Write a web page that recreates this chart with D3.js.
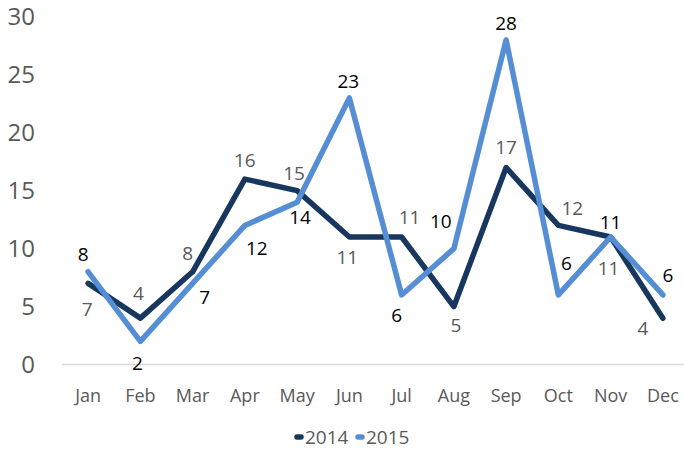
<!DOCTYPE html>
<html>
<head>
<meta charset="utf-8">
<script src="https://cdn.jsdelivr.net/npm/d3@7"></script>
<style>
  body { margin: 0; background: #fff; }
  svg { display: block; font-family: "Open Sans", sans-serif; }
</style>
</head>
<body>
<div id="viz"></div>
<script>
var months = ["Jan", "Feb", "Mar", "Apr", "May", "Jun", "Jul", "Aug", "Sep", "Oct", "Nov", "Dec"];
var values2014 = [7, 4, 8, 16, 15, 11, 11, 5, 17, 12, 11, 4];
var values2015 = [8, 2, 7, 12, 14, 23, 6, 10, 28, 6, 11, 6];
var yTicks = [0, 5, 10, 15, 20, 25, 30];

// label offsets from the point (dx, dy), like the reference placement
var off2014 = [[-1, 26], [-2, -25], [-5, -18], [0, -19], [-3, -17], [-2, 20], [8, -20], [2, 19], [0, -20], [14, -17], [-2, 31], [-20, 10]];
var off2015 = [[-5, -17], [-3, 22], [12, 14], [12, 23], [3, 15], [-1, -17], [-5, 20], [-13, -27], [0, -17], [8, -32], [0, -15], [5, -20]];

var series = [
  {name: "2014", values: values2014, color: "#17375E", text: "#595959", off: off2014},
  {name: "2015", values: values2015, color: "#558ED5", text: "#000000", off: off2015}
];

var width = 684, height = 450;

var svg = d3.select("#viz")
    .append("svg")
    .attr("width", width)
    .attr("height", height);

var x = d3.scalePoint()
    .domain(months)
    .range([62, 689])
    .padding(0.5);

var y = d3.scaleLinear()
    .domain([0, 30])
    .range([364.5, 16.8]);

// baseline
svg.append("line")
    .attr("x1", 62).attr("x2", width)
    .attr("y1", y(0)).attr("y2", y(0))
    .style("stroke", "#d9d9d9")
    .style("stroke-width", 1.3);

// y tick labels
svg.selectAll("text.ytick")
    .data(yTicks)
    .enter().append("text")
    .attr("class", "ytick")
    .attr("x", 35)
    .attr("y", function(d){return y(d);})
    .attr("dy", "0.35em")
    .attr("text-anchor", "end")
    .style("font-size", "24px")
    .style("fill", "#595959")
    .text(function(d){return d;});

// x tick labels
svg.selectAll("text.xtick")
    .data(months)
    .enter().append("text")
    .attr("class", "xtick")
    .attr("x", function(d){return x(d);})
    .attr("y", 396)
    .attr("dy", "0.35em")
    .attr("text-anchor", "middle")
    .style("font-size", "18px")
    .style("fill", "#595959")
    .text(function(d){return d;});

var line = d3.line()
    .x(function(d, i){return x(months[i]);})
    .y(function(d){return y(d);});

series.forEach(function(s){
  svg.append("path")
      .datum(s.values)
      .attr("d", line)
      .style("fill", "none")
      .style("stroke", s.color)
      .style("stroke-width", 5.5)
      .style("stroke-linejoin", "round")
      .style("stroke-linecap", "round");
});

series.forEach(function(s){
  svg.selectAll(null)
      .data(s.values)
      .enter().append("text")
      .attr("x", function(d, i){return x(months[i]) + s.off[i][0];})
      .attr("y", function(d, i){return y(d) + s.off[i][1];})
      .attr("dy", "0.35em")
      .attr("text-anchor", "middle")
      .style("font-size", "19px")
      .style("fill", s.text)
      .text(function(d){return d;});
});

// legend
var legend = svg.append("g");
var legX = [296, 357], legY = 437;
series.forEach(function(s, i){
  legend.append("line")
      .attr("x1", legX[i] + 1).attr("x2", legX[i] + 5)
      .attr("y1", legY).attr("y2", legY)
      .style("stroke", s.color)
      .style("stroke-width", 5.5)
      .style("stroke-linecap", "round");
  legend.append("text")
      .attr("x", legX[i] + 9)
      .attr("y", legY)
      .attr("dy", "0.35em")
      .style("font-size", "19px")
      .style("fill", "#595959")
      .text(s.name);
});
</script>
</body>
</html>
